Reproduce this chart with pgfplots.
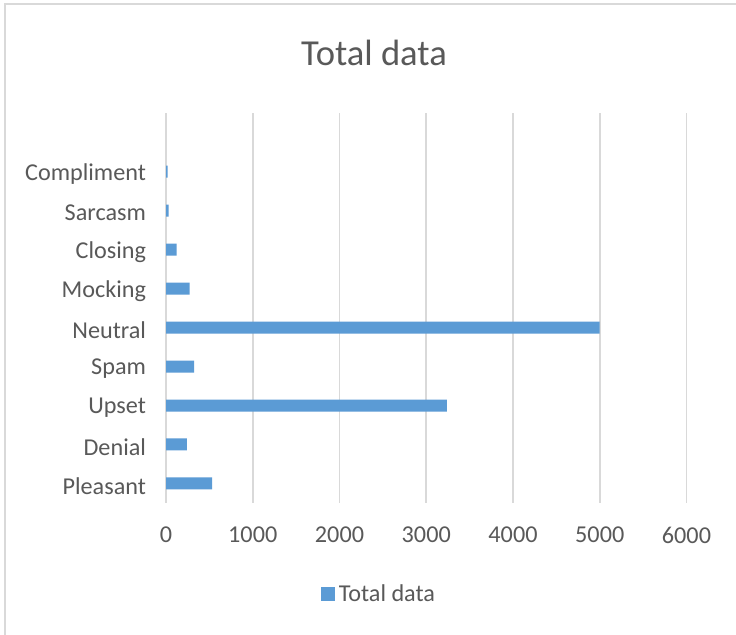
\documentclass[border=0pt]{standalone}
\usepackage{pgfplots}
\pgfplotsset{compat=1.18}
\usepackage{fontspec}
\setmainfont{Carlito}
\definecolor{barblue}{HTML}{5B9BD5}
\definecolor{gridgray}{HTML}{D9D9D9}
\definecolor{txtgray}{HTML}{595959}
\begin{document}
\begin{tikzpicture}
% chart frame (top and left edges)
\fill[white] (0,0) rectangle (368bp,317.5bp);
\draw[gridgray, line width=1bp] (2.5bp,0) -- (2.5bp,315.5bp) -- (368bp,315.5bp);
\node[txtgray, font=\fontsize{18.3bp}{21bp}\selectfont] at (187bp,291bp) {Total data};
\begin{axis}[
  at={(83bp,66bp)}, anchor=south west,
  scale only axis,
  width=260.25bp, height=195bp,
  xbar, bar width=6bp,
  xmin=0, xmax=6000,
  ymin=-0.5, ymax=9.5,
  xtick={0,1000,2000,3000,4000,5000,6000},
  ytick={0,1,...,8},
  yticklabels={Pleasant,Denial,Upset,Spam,Neutral,Mocking,Closing,Sarcasm,Compliment},
  scaled x ticks=false,
  /pgf/number format/assume math mode=true,
  /pgf/number format/1000 sep={},
  xmajorgrids, major grid style={gridgray, line width=0.9bp},
  axis line style={draw=none},
  major tick length=0pt,
  tick label style={txtgray, font=\fontsize{12.1bp}{14bp}\selectfont},
  xticklabel style={yshift=-8.5bp},
  yticklabel style={xshift=-6.5bp, yshift=-1.2bp},
  legend style={at={(0.411,-0.234)}, anchor=center, draw=none, fill=none,
    font=\fontsize{12.1bp}{14bp}\selectfont, text=txtgray, inner sep=0pt,
    legend cell align=left},
  legend image code/.code={\fill[barblue] (0bp,-3.5bp) rectangle (7bp,3.5bp);},
]
\addplot[fill=barblue, draw=none] coordinates {
  (531,0) (242,1) (3238,2) (323,3) (5000,4) (273,5) (123,6) (30,7) (20,8)
};
\addlegendentry{Total data}
\end{axis}
\pgfresetboundingbox
\path[use as bounding box] (0,0) rectangle (368bp,317.5bp);
\end{tikzpicture}
\end{document}
